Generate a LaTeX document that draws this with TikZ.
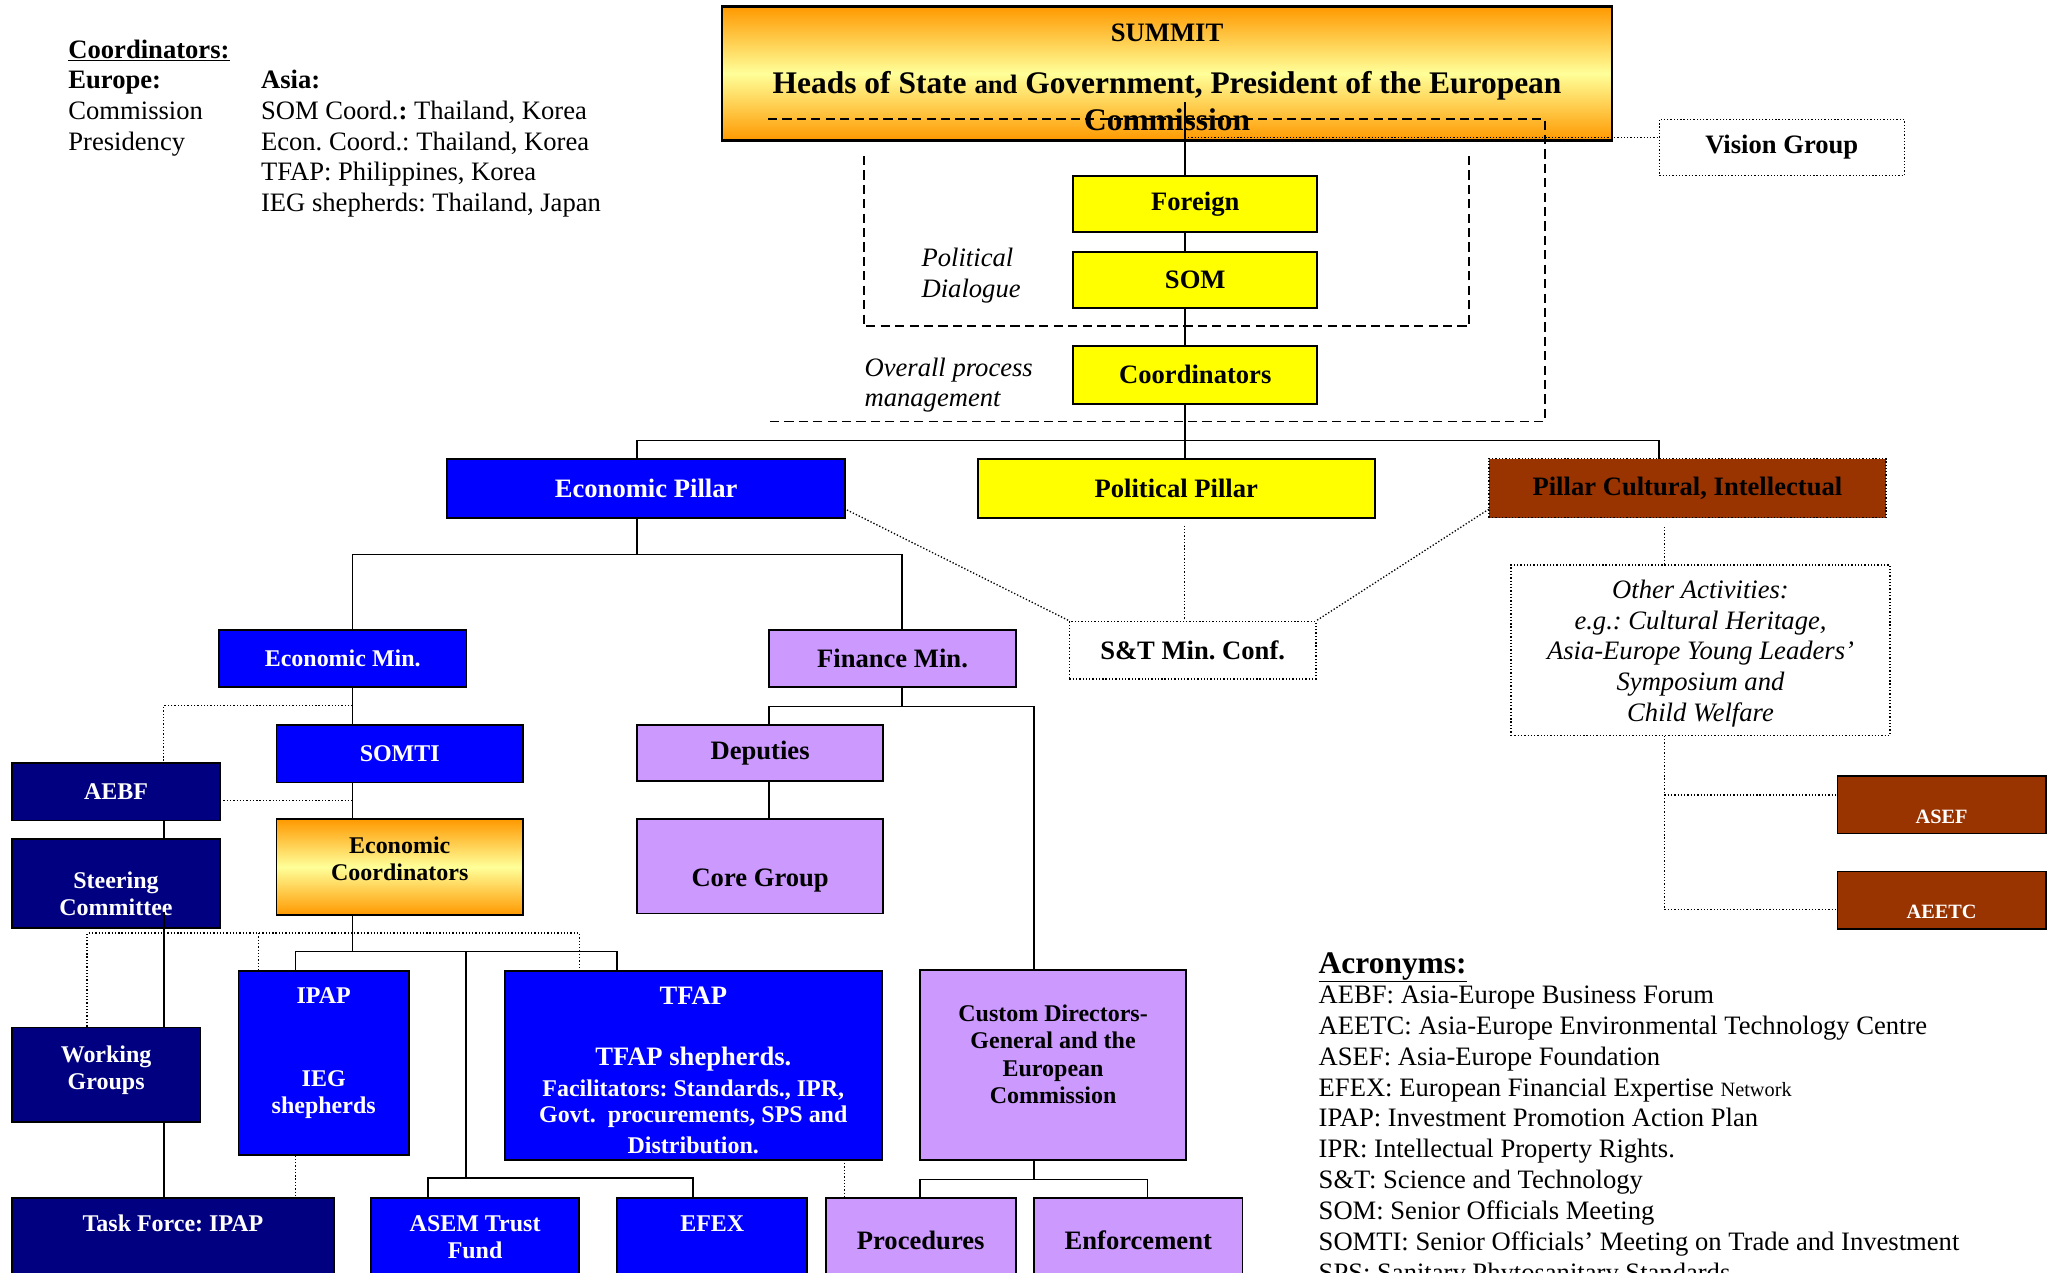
\documentclass[tikz,border=0pt]{standalone}
\usepackage{fontspec}
\setmainfont{Liberation Serif}
\frenchspacing
\definecolor{cBlue}{HTML}{0000FF}
\definecolor{cNavy}{HTML}{000080}
\definecolor{cYel}{HTML}{FFFF00}
\definecolor{cLav}{HTML}{CC99FF}
\definecolor{cBrown}{HTML}{993300}
\definecolor{cOrange}{HTML}{FF9900}
\definecolor{cLightY}{HTML}{FFFF99}
\newcommand\fsN{\fontsize{20.3}{23.5}\selectfont}
\newcommand\fsS{\fontsize{18.3}{21}\selectfont}
\newcommand\fsL{\fontsize{24}{28}\selectfont}
\newcommand\fsT{\fontsize{15.5}{18}\selectfont}
% box by corners: options, name, x1, y1, x2, y2, text
\newcommand\bx[7]{\node[#1, minimum width={(#5)-(#3)}, minimum height={(#6)-(#4)}] (#2) at ({((#3)+(#5))/2},{((#4)+(#6))/2}) {#7};}
\begin{document}
\frenchspacing
\begin{tikzpicture}[x=1pt,y=-1pt,
  box/.style={draw=black, line width=1.4pt, inner sep=0pt, align=center, font=\fsN\bfseries},
  dotbox/.style={draw=black, line width=1pt, dash pattern=on 1pt off 1.5pt, inner sep=0pt, align=center, font=\fsN\bfseries},
  wire/.style={draw=black, line width=1.3pt},
  dotwire/.style={draw=black, line width=1pt, dash pattern=on 1pt off 1.5pt},
  dashwire/.style={draw=black, line width=1.3pt, dash pattern=on 7pt off 4pt},
  txt/.style={inner sep=0pt, anchor=base west, font=\fsN},
  ctxt/.style={inner sep=0pt, anchor=base, font=\fsN\bfseries},
  wtxt/.style={inner sep=0pt, anchor=base, font=\fsS\bfseries, text=white},
  grad/.style={top color=cOrange, bottom color=cOrange, middle color=cLightY},
]
\useasboundingbox (0,0) rectangle (1568,971);

% ---------- legend top left
\node[txt, font=\fsN\bfseries] (lgHead) at (52,44.5) {\underline{Coordinators:}};
\node[txt, font=\fsN\bfseries] (lgEu) at (52,67.5) {Europe:};
\node[txt] (lgEu1) at (52,91) {Commission};
\node[txt] (lgEu2) at (52,114.5) {Presidency};
\node[txt, font=\fsN\bfseries] (lgAs) at (199,67.5) {Asia:};
\node[txt] (lgAs1) at (199,91) {SOM Coord.\textbf{:} Thailand, Korea};
\node[txt] (lgAs2) at (199,114.5) {Econ. Coord.: Thailand, Korea};
\node[txt] (lgAs3) at (199,138) {TFAP: Philippines, Korea};
\node[txt] (lgAs4) at (199,161.5) {IEG shepherds: Thailand, Japan};

% ---------- summit
\bx{box, line width=2pt, grad}{summit}{551}{5}{1230}{107}{}
\node[ctxt] (sumT) at (890.5,31.5) {SUMMIT};
\node[ctxt, font=\fsL\bfseries] (sumH) at (890.5,71.5) {Heads of State {\fsN and} Government, President of the European};
\node[ctxt, font=\fsL\bfseries] (sumC) at (890.5,99.5) {Commission};

\bx{dotbox}{vision}{1266}{91}{1453}{134}{Vision Group}

% dashed frames
\draw[dashwire] (586,91) -- (1179,91) -- (1179,321.5) -- (586,321.5);
\draw[dashwire] (659,119) -- (659,249) -- (1121,249) -- (1121,119);

\bx{box, fill=cYel}{foreign}{819}{134}{1005}{177}{Foreign}
\bx{box, fill=cYel}{som}{819}{192}{1005}{235}{SOM}
\bx{box, fill=cYel}{coord}{819}{264}{1005}{308}{Coordinators}

\node[txt, font=\fsN\itshape] (pd1) at (703,203.5) {Political};
\node[txt, font=\fsN\itshape] (pd2) at (703,227) {Dialogue};
\node[txt, font=\fsN\itshape] (op1) at (659.5,287.5) {Overall process};
\node[txt, font=\fsN\itshape] (op2) at (659.5,310.5) {management};

% ---------- pillars
\bx{box, fill=cBlue, text=white}{econP}{341}{350}{645}{395}{Economic Pillar}
\bx{box, fill=cYel}{polP}{746}{350}{1049}{395}{Political Pillar}
\bx{dotbox, fill=cBrown}{cultP}{1136}{350}{1439}{395}{Pillar Cultural, Intellectual}

\bx{dotbox}{stc}{816}{474}{1004}{518}{S\&T Min. Conf.}

\bx{dotbox}{other}{1153}{431}{1442}{561}{}
\node[ctxt, font=\fsN\itshape] (oa1) at (1297.5,456.4) {Other Activities:};
\node[ctxt, font=\fsN\itshape] (oa2) at (1297.5,480) {e.g.: Cultural Heritage,};
\node[ctxt, font=\fsN\itshape] (oa3) at (1297.5,503.4) {Asia-Europe Young Leaders’};
\node[ctxt, font=\fsN\itshape] (oa4) at (1297.5,526.8) {Symposium and};
\node[ctxt, font=\fsN\itshape] (oa5) at (1297.5,550.2) {Child Welfare};

\bx{box, fill=cBrown}{asef}{1402}{592}{1561}{636}{}
\node[ctxt, font=\fsT\bfseries, text=white] (asefT) at (1481.5,628) {ASEF};
\bx{box, fill=cBrown}{aeetc}{1402}{665}{1561}{709}{}
\node[ctxt, font=\fsT\bfseries, text=white] (aeetcT) at (1481.5,700.5) {AEETC};

% ---------- economic branch
\bx{box, fill=cBlue, text=white, font=\fsS\bfseries}{econMin}{167}{481}{356}{524}{Economic Min.}
\bx{box, fill=cBlue, text=white, font=\fsS\bfseries}{somti}{211}{553}{399}{597}{SOMTI}
\bx{box, fill=cNavy, text=white, font=\fsS\bfseries}{aebf}{9}{582}{168}{626}{AEBF}
\bx{box, fill=cNavy}{steering}{9}{640}{168}{708}{}
\node[wtxt] (stT1) at (88.5,677.6) {Steering};
\node[wtxt] (stT2) at (88.5,698.7) {Committee};
\bx{box, grad}{econCo}{211}{625}{399}{698}{}
\node[ctxt, font=\fsS\bfseries] (ecT1) at (305,651) {Economic};
\node[ctxt, font=\fsS\bfseries] (ecT2) at (305,671.8) {Coordinators};

\bx{box, fill=cNavy}{wg}{9}{784}{153}{856}{}
\node[wtxt] (wgT1) at (81,810.5) {Working};
\node[wtxt] (wgT2) at (81,831.5) {Groups};

\bx{box, fill=cBlue}{ipap}{182}{741}{312}{881}{}
\node[wtxt] (ipT1) at (247,766) {IPAP};
\node[wtxt] (ipT2) at (247,829) {IEG};
\node[wtxt] (ipT3) at (247,849.5) {shepherds};

\bx{box, fill=cBlue}{tfap}{385}{741}{673}{885}{}
\node[wtxt, font=\fsN\bfseries] (tfT1) at (529,766.6) {TFAP};
\node[wtxt, font=\fsN\bfseries] (tfT2) at (529,813) {TFAP shepherds.};
\node[wtxt] (tfT3) at (529,836.5) {Facilitators: Standards., IPR,};
\node[wtxt] (tfT4) at (529,856.8) {Govt.~ procurements, SPS and};
\begin{scope}
\clip (385,741) rectangle (673,883.5);
\node[wtxt] (tfT5) at (529,880) {Distribution.};
\end{scope}

\bx{box, fill=cNavy}{taskf}{9}{914}{255}{990}{}
\node[wtxt] (tkT) at (132,939.5) {Task Force: IPAP};
\bx{box, fill=cBlue}{asem}{283}{914}{442}{990}{}
\node[wtxt] (asT1) at (362.5,939.5) {ASEM Trust};
\node[wtxt] (asT2) at (362.5,960.6) {Fund};
\bx{box, fill=cBlue}{efex}{471}{914}{616}{990}{}
\node[wtxt] (efT) at (543.5,939.5) {EFEX};

% ---------- finance branch
\bx{box, fill=cLav}{finMin}{587}{481}{775}{524}{Finance Min.}
\bx{box, fill=cLav}{deputies}{486}{553}{674}{596}{Deputies}
\bx{box, fill=cLav}{core}{486}{625}{674}{697}{}
\node[ctxt] (coreT) at (580,676.4) {Core Group};
\bx{box, fill=cLav}{custom}{702}{740}{905}{885}{}
\node[ctxt, font=\fsS\bfseries] (cuT1) at (803.5,779.3) {Custom Directors-};
\node[ctxt, font=\fsS\bfseries] (cuT2) at (803.5,799.8) {General and the};
\node[ctxt, font=\fsS\bfseries] (cuT3) at (803.5,821.1) {European};
\node[ctxt, font=\fsS\bfseries] (cuT4) at (803.5,842.3) {Commission};
\bx{box, fill=cLav}{proc}{630}{914}{775}{990}{}
\node[ctxt] (prT) at (702.5,953.5) {Procedures};
\bx{box, fill=cLav}{enf}{789}{914}{948}{990}{}
\node[ctxt] (enT) at (868.5,953.5) {Enforcement};

% ---------- acronyms
\node[txt, font=\fsL\bfseries] (acH) at (1006,742.5) {\underline{Acronyms:}};
\node[txt] (ac1) at (1006,765.5) {AEBF: Asia-Europe Business Forum};
\node[txt] (ac2) at (1006,789.1) {AEETC: Asia-Europe Environmental Technology Centre};
\node[txt] (ac3) at (1006,812.7) {ASEF: Asia-Europe Foundation};
\node[txt] (ac4) at (1006,836.3) {EFEX: European Financial Expertise {\fsT Network}};
\node[txt] (ac5) at (1006,859.9) {IPAP: Investment Promotion Action Plan};
\node[txt] (ac6) at (1006,883.5) {IPR: Intellectual Property Rights.};
\node[txt] (ac7) at (1006,907.1) {S\&T: Science and Technology};
\node[txt] (ac8) at (1006,930.7) {SOM: Senior Officials Meeting};
\node[txt] (ac9) at (1006,954.3) {SOMTI: Senior Officials’ Meeting on Trade and Investment};
\node[txt] (ac10) at (1006,977.9) {SPS: Sanitary Phytosanitary Standards};

% ================= connectors
\coordinate (spineTop) at (904,78);
\draw[wire] (spineTop) -- (spineTop |- foreign.north);
\draw[wire] (spineTop |- foreign.south) -- (spineTop |- som.north);
\draw[wire] (spineTop |- som.south) -- (spineTop |- coord.north);
\draw[wire] (spineTop |- coord.south) -- (spineTop |- polP.north);
\coordinate (visJ) at (904,105);
\draw[dotwire] (visJ) -- (visJ -| vision.west);

\coordinate (epIn) at (486,350);
\coordinate (cpIn) at (1266,350);
\coordinate (pBus) at (904,336);
\draw[wire] (epIn) |- (pBus) -| (cpIn);

\coordinate (epCorner) at (644,388);
\draw[dotwire] (epCorner) -- (stc.north west);
\coordinate (ppLow) at (904,401);
\draw[dotwire] (ppLow) -- (ppLow |- stc.north);
\coordinate (cpCorner) at (1136,388.5);
\draw[dotwire] (cpCorner) -- (stc.north east);

\coordinate (cpLow) at (1270,402);
\draw[dotwire] (cpLow) -- (cpLow |- other.north);
\coordinate (oJ1) at (1270,606.5);
\coordinate (oJ2) at (1270,694);
\draw[dotwire] (oJ1 |- other.south) -- (oJ2) -- (oJ2 -| aeetc.west);
\draw[dotwire] (oJ1) -- (oJ1 -| asef.west);

% economic
\coordinate (eBus) at (486,423);
\coordinate (emX) at (269,481);
\coordinate (fmX) at (688,481);
\draw[wire] (econP.south -| eBus) -- (eBus);
\draw[wire] (emX) |- (eBus) -| (fmX);
\coordinate (emBot) at (269,524);
\draw[wire] (emBot) -- (emBot |- somti.north);
\draw[wire] (emBot |- somti.south) -- (emBot |- econCo.north);
\coordinate (aebfJ) at (269,538.5);
\coordinate (aebfX) at (125,582);
\draw[dotwire] (aebfJ) -| (aebfX);
\coordinate (aebfR) at (168,611);
\draw[dotwire] (aebfR) -- (aebfR -| emBot);
\draw[wire] (aebf.south -| aebfX) -- (steering.north -| aebfX);
\coordinate (stIn) at (125,696);
\draw[wire] (stIn) -- (stIn |- wg.north);
\draw[wire] (stIn |- wg.south) -- (stIn |- taskf.north);

\coordinate (dBusL) at (66.5,712);
\coordinate (dBusM) at (197,712);
\coordinate (dBusR) at (442,712);
\draw[dotwire] (wg.north -| dBusL) -- (dBusL) -- (dBusR) -- (dBusR |- tfap.north);
\draw[dotwire] (dBusM) -- (dBusM |- ipap.north);

\coordinate (cBus) at (269,726);
\coordinate (ipX) at (225.5,741);
\coordinate (tfX) at (471,741);
\draw[wire] (econCo.south -| cBus) -- (cBus);
\draw[wire] (ipX) |- (cBus) -| (tfX);
\coordinate (cBus2) at (355.5,899);
\draw[wire] (cBus -| cBus2) -- (cBus2);
\coordinate (asX) at (326.6,914);
\coordinate (efX) at (529,914);
\draw[wire] (asX) |- (cBus2) -| (efX);
\draw[dotwire] (ipap.south -| ipX) -- (taskf.north -| ipX);
\coordinate (tfDot) at (644.6,885);
\draw[dotwire] (tfDot) -- (tfDot |- proc.north);

% finance
\coordinate (fmBot) at (688,524);
\coordinate (fBus) at (688,539);
\coordinate (depX) at (587,553);
\coordinate (cusX) at (789,740);
\draw[wire] (fmBot) -- (fBus);
\draw[wire] (depX) |- (fBus) -| (cusX);
\coordinate (depBot) at (586.5,596);
\draw[wire] (depBot) -- (depBot |- core.north);
\coordinate (cuBot) at (789,885);
\coordinate (cuBus) at (789,900);
\coordinate (prX) at (702,914);
\coordinate (enX) at (875.5,914);
\draw[wire] (cuBot) -- (cuBus);
\draw[wire] (prX) |- (cuBus) -| (enX);
\end{tikzpicture}
\end{document}
